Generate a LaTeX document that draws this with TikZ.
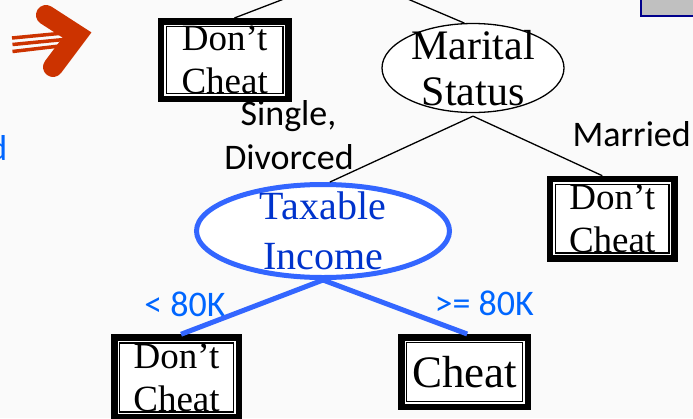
\documentclass[tikz,border=0pt]{standalone}
\usepackage{fontspec}
\setmainfont{Liberation Serif}
\newfontfamily\labelfont{Carlito}
\usetikzlibrary{shapes.geometric}

\definecolor{pagebg}{RGB}{250,250,250}
\definecolor{arrowred}{RGB}{204,51,0}
\definecolor{edgeblue}{RGB}{51,102,255}
\definecolor{splitblue}{RGB}{0,51,204}
\definecolor{labelblue}{RGB}{0,102,255}
\definecolor{tabgray}{RGB}{192,192,192}
\definecolor{tabnavy}{RGB}{0,0,140}

\begin{document}
\begin{tikzpicture}[x=1pt,y=-1pt,
  leaf/.style={draw=black, line width=6.5pt, fill=white, inner sep=0pt, align=center,
    font=\fontsize{37}{43}\selectfont,
    path picture={\draw[line width=1.3pt]
      ([xshift=5.5pt,yshift=-5.5pt]path picture bounding box.north west) rectangle
      ([xshift=-5.5pt,yshift=5.5pt]path picture bounding box.south east);}},
  split/.style={ellipse, fill=white, inner xsep=0pt, inner ysep=-10pt, align=center},
  branch/.style={font=\labelfont\fontsize{36}{44}\selectfont, inner sep=0pt, anchor=base},
  edge/.style={draw=black, line width=1.3pt},
  hotedge/.style={draw=edgeblue, line width=5pt}
]
\clip (0,0) rectangle (693,418);
\fill[pagebg] (0,0) rectangle (693,418);

% pointer arrow
\draw[arrowred, line width=3.5pt] (12,38) -- (64,33);
\draw[arrowred, line width=3.5pt] (12.5,44.5) -- (64,39.5);
\draw[arrowred, line width=3.5pt] (12.5,51.5) -- (64,45.5);
\draw[arrowred, line width=20pt, line cap=round, line join=miter] (46,15) -- (77,35) -- (53,67);

% slide number tab
\draw[fill=tabgray, draw=tabnavy, line width=2pt] (641,-5) rectangle (700,16);

% clipped word on the left margin
\node[branch, anchor=base east, text=labelblue] (cut) at (7.5,160) {d};

% tree nodes
\coordinate (root) at (349,-26);
\node[leaf, minimum width=127.5pt, minimum height=77.5pt] (tl) at (224.7,60) {Don’t\\Cheat};
\node[split, draw=black, line width=1.3pt, minimum width=182pt, minimum height=89pt,
      font=\fontsize{42}{46}\selectfont] (ms) at (473,68) {Marital\\Status};
\node[leaf, minimum width=124.5pt, minimum height=79.5pt] (mr) at (612.2,218.7) {Don’t\\Cheat};
\node[split, draw=edgeblue, line width=5pt, text=splitblue, minimum width=253pt, minimum height=93pt,
      font=\fontsize{40}{50}\selectfont] (ti) at (323,231) {Taxable\\Income};
\node[leaf, minimum width=124.5pt, minimum height=80pt] (bl) at (176.5,377.5) {Don’t\\Cheat};
\node[leaf, minimum width=126.5pt, minimum height=69.5pt, font=\fontsize{45}{50}\selectfont] (ch) at (464.5,372) {Cheat};

% branch labels
\node[branch] (single) at (288.5,125) {Single,};
\node[branch] (divorced) at (289,169.3) {Divorced};
\node[branch] (married) at (631.7,146.7) {Married};
\node[branch, text=labelblue] (lt) at (185,316.7) {< 80K};
\node[branch, text=labelblue] (ge) at (484.3,315) {>= 80K};

% connectors
\draw[edge] (root) -- (tl.77);
\draw[edge] (root) -- (ms.101);
\draw[edge] ([yshift=-3pt]ms.south) -- (ti.82);
\draw[edge] ([yshift=-3pt]ms.south) -- (mr.103);
\draw[hotedge] (ti.south) -- (bl.84);
\draw[hotedge] (ti.south) -- (ch.86);
\end{tikzpicture}
\end{document}
